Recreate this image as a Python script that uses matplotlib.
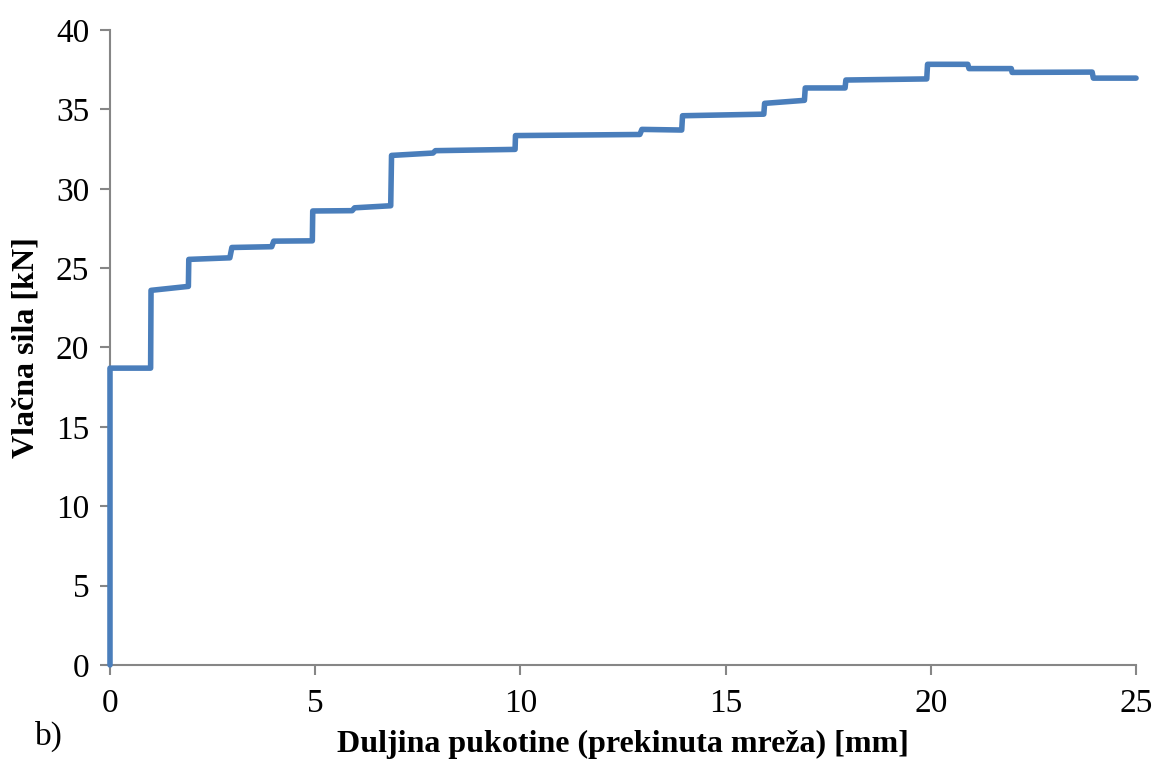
import numpy as np
import matplotlib.pyplot as plt

plt.rcParams['font.family'] = ['Liberation Serif', 'DejaVu Serif']

# crack length [mm] and tensile force [kN]
duljina = [0, 0, 0.99, 1.0, 1.91, 1.92, 2.92, 2.97, 3.94, 3.99, 4.93, 4.94,
           5.9, 5.96, 6.84, 6.86, 7.87, 7.93, 9.87, 9.88, 12.91, 12.96,
           13.93, 13.95, 15.93, 15.95, 16.92, 16.94, 17.91, 17.93, 19.9,
           19.92, 20.9, 20.93, 21.96, 21.98, 23.93, 23.96, 25.0]
sila = [0, 18.7, 18.7, 23.6, 23.85, 25.55, 25.65, 26.3, 26.35, 26.7, 26.72,
        28.6, 28.62, 28.8, 28.93, 32.1, 32.25, 32.4, 32.48, 33.35, 33.42,
        33.74, 33.7, 34.6, 34.7, 35.38, 35.57, 36.35, 36.35, 36.85, 36.92,
        37.84, 37.84, 37.57, 37.57, 37.33, 37.35, 36.97, 36.97]

x_ticks = [0, 5, 10, 15, 20, 25]
y_ticks = [0, 5, 10, 15, 20, 25, 30, 35, 40]

fig = plt.figure(figsize=(11.59, 7.66), dpi=100)
ax = fig.add_axes([0.0949, 0.1319, 0.8853, 0.8289])

ax.plot(duljina, sila, color='#4A7EBB', linewidth=4.0, solid_joinstyle='round',
        solid_capstyle='round', clip_on=False, zorder=3)

ax.set_xlim(0, 25)
ax.set_ylim(0, 40)
ax.set_xticks(x_ticks)
ax.set_yticks(y_ticks)

for s in ['top', 'right']:
    ax.spines[s].set_visible(False)
for s in ['left', 'bottom']:
    ax.spines[s].set_color('#868686')
    ax.spines[s].set_linewidth(1.5)
ax.tick_params(axis='both', direction='out', length=7, width=1.5, color='#868686',
               labelsize=24)
ax.tick_params(axis='x', pad=10)
ax.tick_params(axis='y', pad=8)

ax.set_xlabel('Duljina pukotine (prekinuta mreža) [mm]', fontsize=23,
              fontweight='bold', labelpad=8)
ax.set_ylabel('Vlačna sila [kN]', fontsize=23, fontweight='bold', labelpad=11)
fig.text(0.03, 0.028, 'b)', fontsize=24)

fig.savefig('out.png', dpi=100)
